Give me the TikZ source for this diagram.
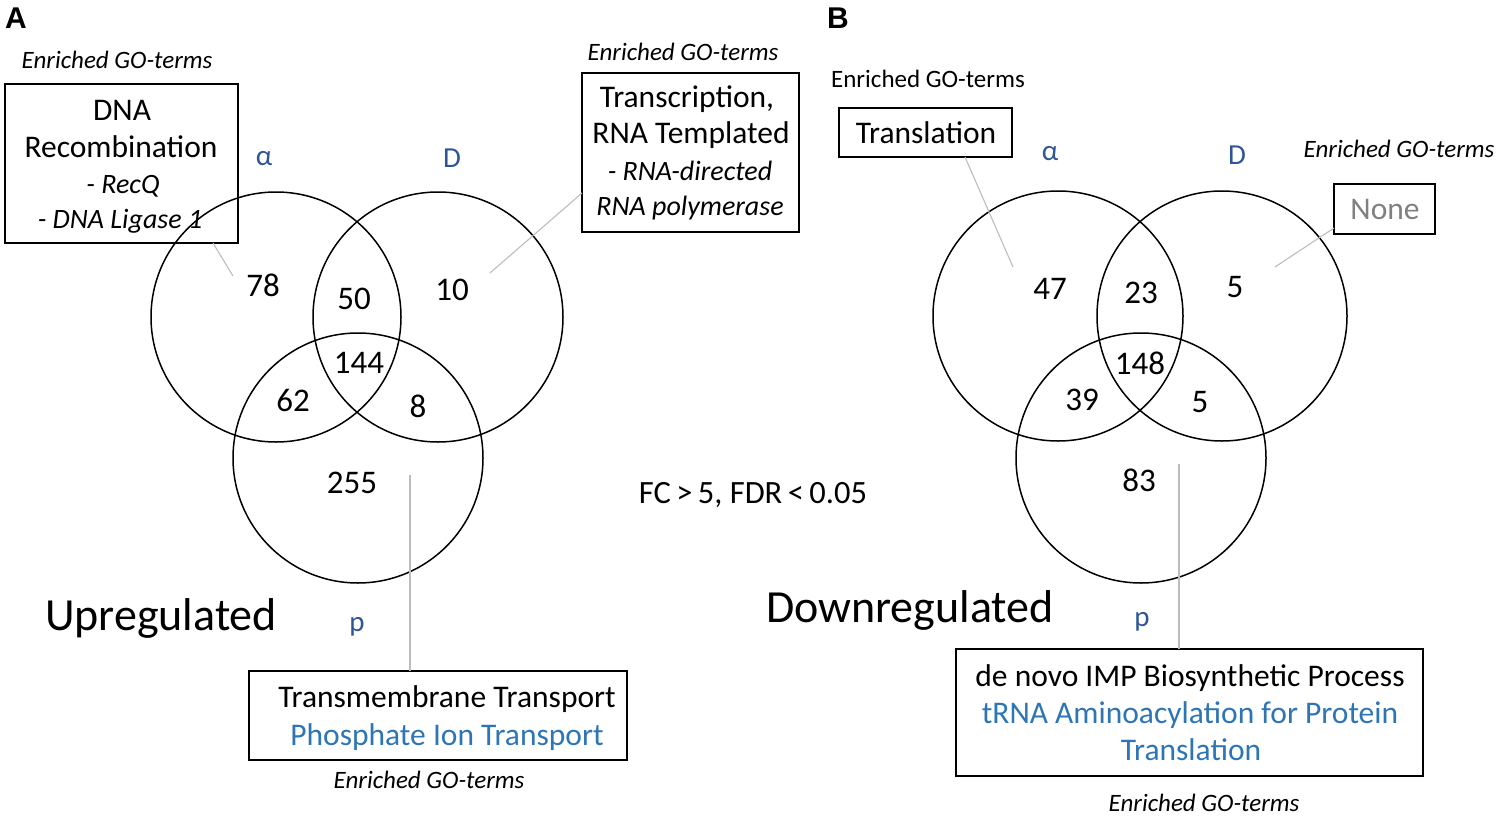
\documentclass[tikz,border=0pt]{standalone}
\usepackage{fontspec}
\setmainfont{Carlito}
\newfontfamily\panelfont{Liberation Sans}
\definecolor{lblblue}{HTML}{2F5597}
\definecolor{txtblue}{HTML}{2E75B6}
\definecolor{conngray}{HTML}{BDBDBD}
\definecolor{nonegray}{HTML}{808080}
\newcommand{\fsz}[1]{\fontsize{#1}{#1}\selectfont}
\begin{document}
\begin{tikzpicture}[x=1pt,y=-1pt,
 txt/.style={inner sep=0pt, outer sep=0pt, anchor=base},
 gobox/.style={draw=black, line width=1.3pt, inner sep=0pt, rectangle, fill=none},
 conn/.style={draw=conngray, line width=1.1pt},
 vennc/.style={draw=black, line width=1.5pt, circle, inner sep=0pt, minimum size=250pt},
 num/.style={txt, font=\fsz{33}},
 grp/.style={txt, font=\fsz{29}, text=lblblue},
 main/.style={txt, font=\fsz{31.5}},
 sub/.style={txt, font=\fsz{28}\itshape},
 enr/.style={txt, font=\fsz{25}\itshape},
 enrup/.style={txt, font=\fsz{25}},
 big/.style={txt, font=\fsz{46}},
 panel/.style={txt, font=\panelfont\bfseries\fsz{30}}
]
\useasboundingbox (0,0) rectangle (1500,816);

% ---------------- Panel A ----------------
\node[panel] (pA) at (16,29) {A};
\node[vennc] (cAa) at (276,317) {};
\node[vennc] (cAd) at (438,317) {};
\node[vennc] (cAp) at (358,458) {};
\node[grp] (lAa) at (264,165) {α};
\node[grp] (lAd) at (452,167) {D};
\node[grp] (lAp) at (357,631) {p};
\node[num] (nA1) at (263,296) {78};
\node[num] (nA2) at (354,309) {50};
\node[num] (nA3) at (452,300) {10};
\node[num] (nA4) at (359,373) {144};
\node[num] (nA5) at (293,411) {62};
\node[num] (nA6) at (418,417) {8};
\node[num] (nA7) at (352,493) {255};
\node[big] (upr) at (161,630) {Upregulated};

% box DNA recombination
\node[enr] (eA1) at (117,69) {Enriched GO-terms};
\node[gobox, minimum width=233pt, minimum height=159pt] (bA1) at (121.5,163.5) {};
\node[main] (tA11) at (122,120) {DNA};
\node[main] (tA12) at (121,157) {Recombination};
\node[sub] (tA13) at (123,193) {- RecQ};
\node[sub] (tA14) at (120,228) {- DNA Ligase 1};
\coordinate (kA1a) at (213,243);
\coordinate (kA1b) at (233,276);
\draw[conn] (kA1a) -- (kA1b);

% box transcription
\node[enr] (eA2) at (683,60) {Enriched GO-terms};
\node[gobox, minimum width=217pt, minimum height=159pt] (bA2) at (690.5,152.5) {};
\node[main] (tA21) at (687,107) {Transcription,};
\node[main] (tA22) at (691,143) {RNA Templated};
\node[sub] (tA23) at (690,180) {- RNA-directed};
\node[sub] (tA24) at (690,215) {RNA polymerase};
\coordinate (kA2a) at (582,193);
\coordinate (kA2b) at (490,273);
\draw[conn] (kA2a) -- (kA2b);

% box transmembrane
\node[gobox, minimum width=378pt, minimum height=89pt] (bA3) at (438,715.5) {};
\node[main] (tA31) at (447,707) {Transmembrane Transport};
\node[main, text=txtblue] (tA32) at (447,745) {Phosphate Ion Transport};
\node[enr] (eA3) at (429,788) {Enriched GO-terms};
\coordinate (kA3a) at (410,475);
\coordinate (kA3b) at (410,671);
\draw[conn] (kA3a) -- (kA3b);

% threshold
\node[txt, font=\fsz{32.5}] (thr) at (753,503) {FC\,>\,5, FDR\,<\,0.05};

% ---------------- Panel B ----------------
\node[panel] (pB) at (838,29) {B};
\node[vennc] (cBa) at (1058,316) {};
\node[vennc] (cBd) at (1222,316) {};
\node[vennc] (cBp) at (1141,458) {};
\node[grp] (lBa) at (1050,160) {α};
\node[grp] (lBd) at (1237,164) {D};
\node[grp] (lBp) at (1142,626) {p};
\node[num] (nB1) at (1050,299) {47};
\node[num] (nB2) at (1141,303) {23};
\node[num] (nB3) at (1235,297) {5};
\node[num] (nB4) at (1140,374) {148};
\node[num] (nB5) at (1082,410) {39};
\node[num] (nB6) at (1200,412) {5};
\node[num] (nB7) at (1139,491) {83};
\node[big] (dnr) at (910,622) {Downregulated};

% translation box
\node[enrup] (eB1) at (928,88) {Enriched GO-terms};
\node[gobox, minimum width=173pt, minimum height=49pt] (bB1) at (925.5,132.5) {};
\node[main] (tB11) at (926,143) {Translation};
\coordinate (kB1a) at (965,157);
\coordinate (kB1b) at (1013,267);
\draw[conn] (kB1a) -- (kB1b);

% none box
\node[enr] (eB2) at (1399,157) {Enriched GO-terms};
\node[gobox, minimum width=101pt, minimum height=50pt] (bB2) at (1384.5,209) {};
\node[main, text=nonegray] (tB21) at (1385,219) {None};
\coordinate (kB2a) at (1334,228);
\coordinate (kB2b) at (1275,267);
\draw[conn] (kB2a) -- (kB2b);

% IMP box
\node[gobox, minimum width=467pt, minimum height=127pt] (bB3) at (1189.5,712.5) {};
\node[main] (tB31) at (1190,686) {de novo IMP Biosynthetic Process};
\node[main, text=txtblue] (tB32) at (1190,723) {tRNA Aminoacylation for Protein};
\node[main, text=txtblue] (tB33) at (1191,760) {Translation};
\node[enr] (eB3) at (1204,811) {Enriched GO-terms};
\coordinate (kB3a) at (1179,464);
\coordinate (kB3b) at (1179,649);
\draw[conn] (kB3a) -- (kB3b);
\end{tikzpicture}
\end{document}
